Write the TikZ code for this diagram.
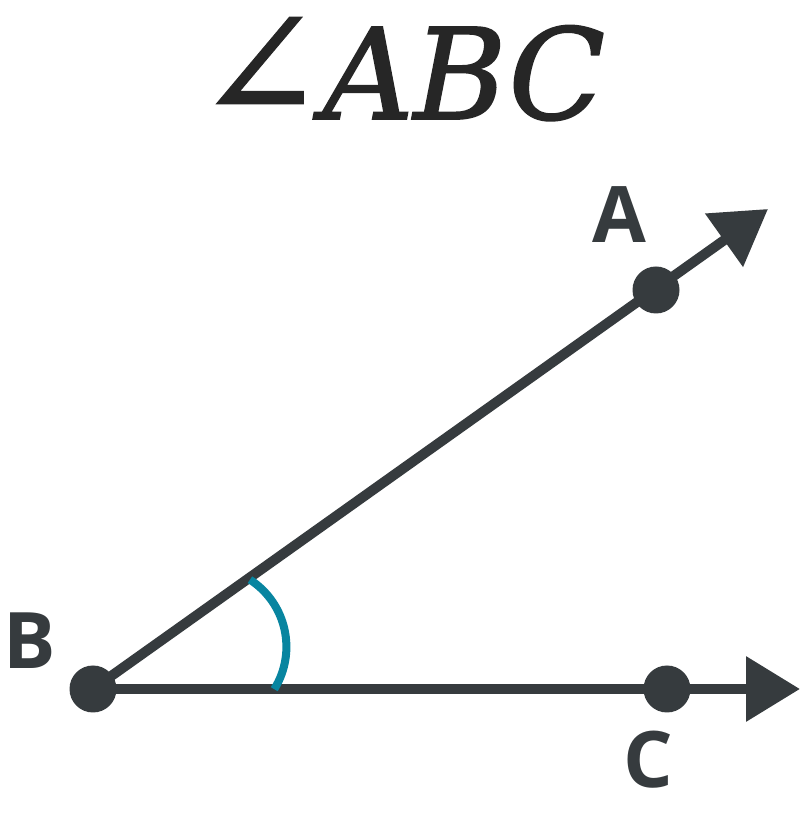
\documentclass[tikz,border=0pt]{standalone}
\usepackage{fontspec}
\usetikzlibrary{arrows.meta}
\newfontfamily\titlefont{DejaVu Serif}[FakeBold=1.5]
\newfontfamily\anglefont{DejaVu Serif}[FakeBold=0.8]
\newfontfamily\labelfont{Open Sans}
\definecolor{ink}{HTML}{363B3E}
\definecolor{arcteal}{HTML}{0885A0}
\begin{document}
\begin{tikzpicture}[x=1pt,y=1pt,
  ray/.style={draw=ink,line width=10pt,-{Triangle[length=54pt,width=63pt]}},
  dot/.style={circle,fill=ink,minimum size=47pt,inner sep=0pt},
  lbl/.style={text=ink,inner sep=0pt,font=\labelfont\bfseries\fontsize{78pt}{78pt}\selectfont},
  ttl/.style={text=black!85,inner sep=0pt,font=\titlefont\fontsize{126pt}{126pt}\selectfont},
  anglearc/.style={draw=arcteal,line width=8pt}]
\useasboundingbox (0,0) rectangle (800,815);
\fill[white] (0,0) rectangle (800,815);
\coordinate (B) at (93,126);
\coordinate (A) at (656,525);
\coordinate (C) at (667,126);
\coordinate (TA) at (768,606);
\coordinate (TC) at (800,126);
\coordinate (O) at (206.4,168.2);
\draw[ray] (B) -- (TA);
\draw[ray] (B) -- (TC);
\draw[anglearc] ([shift={(-32:80pt)}]O) arc[start angle=-32,end angle=57,radius=80pt];
\node[dot] (dB) at (B) {};
\node[dot] (dA) at (A) {};
\node[dot] (dC) at (C) {};
\node[lbl] (lA) at (619,600) {A};
\node[lbl] (lB) at (29.5,174) {B};
\node[lbl] (lC) at (648.5,55) {C};
\node[ttl,anchor=base,font=\anglefont\fontsize{154pt}{154pt}\selectfont] (angsym) at (260,696) {∠};
\node[ttl,anchor=base] (title) at (464,696) {\textit{ABC}};
\end{tikzpicture}
\end{document}
